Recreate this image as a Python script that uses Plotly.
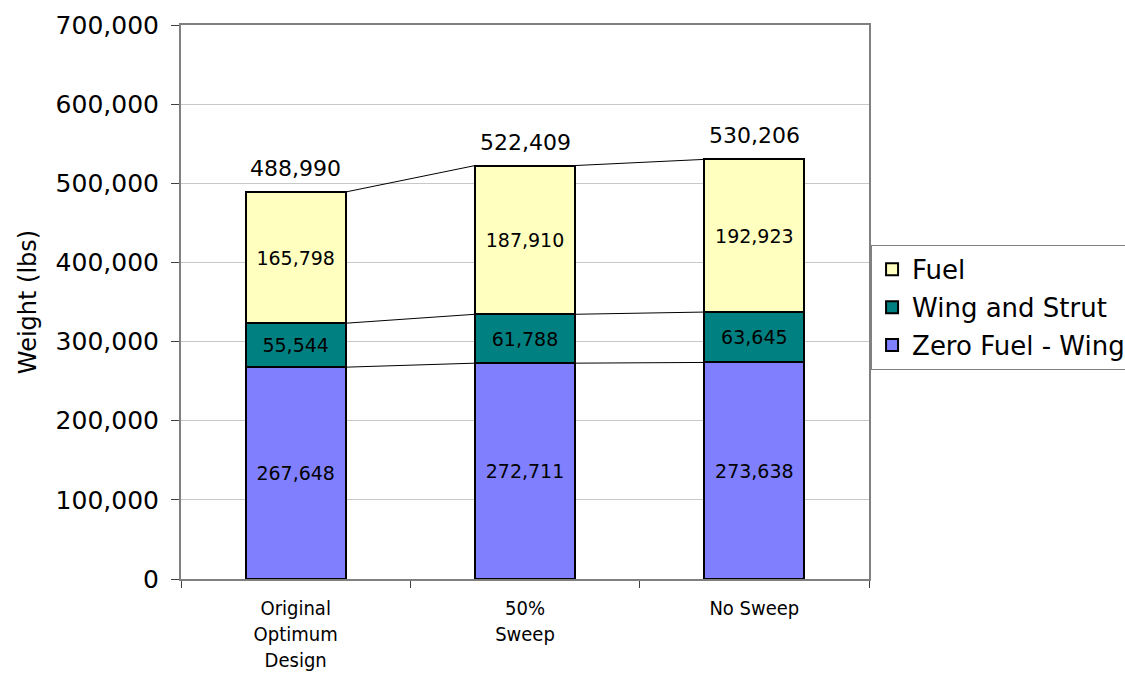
import plotly.graph_objects as go

categories = ["Original<br>Optimum<br>Design", "50%<br>Sweep", "No Sweep"]
zero_fuel_wing = [267648, 272711, 273638]
wing_and_strut = [55544, 61788, 63645]
fuel = [165798, 187910, 192923]
totals = [488990, 522409, 530206]
y_ticks = [0, 100000, 200000, 300000, 400000, 500000, 600000, 700000]

x = list(range(len(categories)))
bar_w = 0.435

series = [
    ("Zero Fuel - Wing", zero_fuel_wing, "#8080FF", 3),
    ("Wing and Strut", wing_and_strut, "#008080", 2),
    ("Fuel", fuel, "#FFFFC0", 1),
]

fig = go.Figure()
for name, vals, col, rank in series:
    fig.add_trace(go.Bar(
        x=x, y=vals, name=name, width=bar_w, legendgroup=name, legendrank=rank,
        marker=dict(color=col, line=dict(color="black", width=2)),
        texttemplate="%{y:,.0f}", textposition="inside", insidetextanchor="middle",
        textangle=0, constraintext="none",
        textfont=dict(family="DejaVu Sans", size=19, color="black"),
    ))

# series lines connecting the stacked levels
cum1 = zero_fuel_wing
cum2 = [a + b for a, b in zip(zero_fuel_wing, wing_and_strut)]
cum3 = [a + b + c for a, b, c in zip(zero_fuel_wing, wing_and_strut, fuel)]
for level in (cum1, cum2, cum3):
    for i in range(len(x) - 1):
        fig.add_trace(go.Scatter(
            x=[x[i] + bar_w / 2, x[i + 1] - bar_w / 2], y=[level[i], level[i + 1]],
            mode="lines", line=dict(color="black", width=1),
            showlegend=False, hoverinfo="skip",
        ))

for xi, t in zip(x, totals):
    fig.add_annotation(
        x=xi, y=t, text=f"{t:,}", showarrow=False, yanchor="bottom", yshift=9,
        font=dict(family="DejaVu Sans", size=22, color="black"),
    )

fig.update_layout(
    width=1125, height=675,
    barmode="stack",
    plot_bgcolor="white", paper_bgcolor="white",
    margin=dict(l=181, r=256, t=25, b=96, autoexpand=False),
    font=dict(family="DejaVu Sans", color="black"),
    legend=dict(
        x=1.003, xanchor="left", y=0.603, yanchor="top",
        traceorder="grouped", tracegroupgap=1,
        bordercolor="#808080", borderwidth=1, bgcolor="white",
        font=dict(family="DejaVu Sans", size=26, color="black"),
    ),
    xaxis=dict(
        range=[-0.5, 2.5], tickvals=x, ticktext=categories, ticks="",
        tickfont=dict(family="DejaVu Sans Condensed", size=20, color="black"),
        showgrid=False, zeroline=False,
        showline=True, linecolor="#808080", linewidth=2, mirror=True,
        minor=dict(tickvals=[-0.5, 0.5, 1.5, 2.5], ticks="outside", ticklen=7,
                   tickcolor="#404040", tickwidth=1, showgrid=False),
        ticklabelstandoff=10,
    ),
    yaxis=dict(
        range=[0, 700000], tickvals=y_ticks, tickformat=",", ticks="outside",
        ticklen=8, tickcolor="#404040", ticklabelstandoff=7,
        tickfont=dict(family="DejaVu Sans", size=25, color="black"),
        showgrid=True, gridcolor="#C8C8C8", gridwidth=1, zeroline=False,
        showline=True, linecolor="#808080", linewidth=2, mirror=True,
        title=dict(text="Weight (lbs)", standoff=12,
                   font=dict(family="DejaVu Sans", size=24, color="black")),
    ),
)

fig.write_html("out.html")
